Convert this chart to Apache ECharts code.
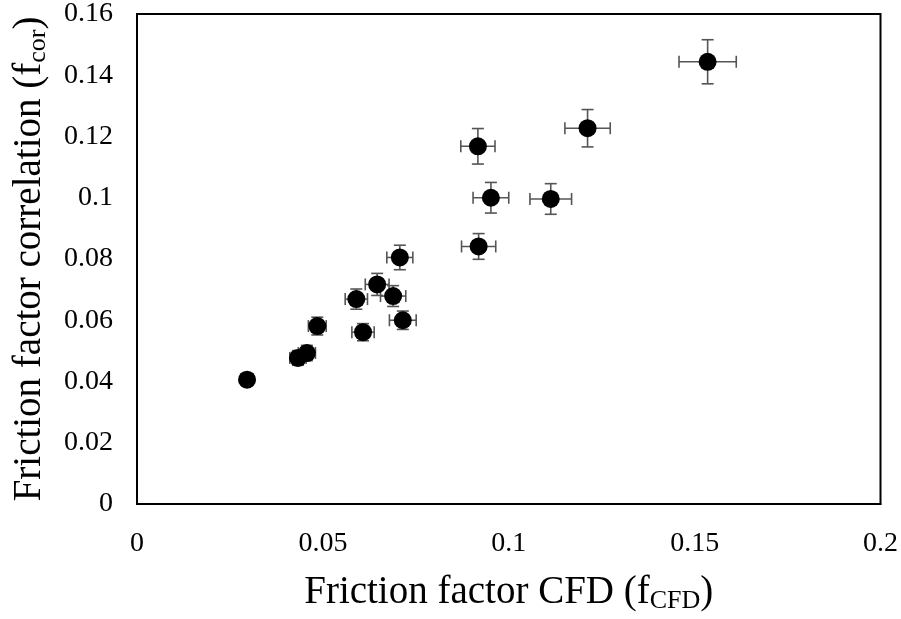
<!DOCTYPE html>
<html>
<head>
<meta charset="utf-8">
<script src="https://cdn.jsdelivr.net/npm/echarts@6/dist/echarts.min.js"></script>
<style>html,body{margin:0;padding:0;background:#fff;}#c{width:901px;height:619px;}</style>
</head>
<body>
<div id="c"></div>
<script>
// Friction factor CFD (x) vs correlation (y)
var fCFD = [0.0296, 0.0433, 0.0457, 0.0485, 0.0590, 0.0608, 0.0646, 0.0689, 0.0707, 0.0715, 0.0917, 0.0919, 0.0952, 0.1113, 0.1212, 0.1535];
var fCor = [0.0406, 0.0477, 0.0493, 0.0581, 0.0669, 0.0561, 0.0717, 0.0679, 0.0805, 0.0600, 0.1168, 0.0841, 0.1000, 0.0996, 0.1227, 0.1444];
var xErr = [0.0015, 0.0022, 0.0023, 0.0024, 0.0030, 0.0030, 0.0032, 0.0034, 0.0035, 0.0036, 0.0046, 0.0046, 0.0048, 0.0056, 0.0061, 0.0077];
var yErr = [0.0020, 0.0024, 0.0025, 0.0029, 0.0033, 0.0028, 0.0036, 0.0034, 0.0040, 0.0030, 0.0058, 0.0042, 0.0050, 0.0050, 0.0061, 0.0072];

var points = fCFD.map(function (x, i) { return [x, fCor[i]]; });
var errData = fCFD.map(function (x, i) { return [x, fCor[i], xErr[i], yErr[i]]; });

var chart = echarts.init(document.getElementById('c'));
var font = '"Liberation Serif", "Times New Roman", serif';

chart.setOption({
  animation: false,
  backgroundColor: '#fff',
  textStyle: { fontFamily: font },
  grid: { left: 137, right: 20, top: 14, bottom: 112, show: true, borderColor: '#000', borderWidth: 2, backgroundColor: 'transparent' },
  xAxis: {
    type: 'value', min: 0, max: 0.2, interval: 0.05,
    splitLine: { show: false },
    axisLine: { show: true, lineStyle: { color: '#000', width: 2 } },
    axisTick: { show: false },
    axisLabel: { color: '#000', fontSize: 28, fontFamily: font, margin: 26,
      formatter: function (v) { return +v.toFixed(2) + ''; } },
    name: 'Friction factor CFD (f{s|CFD})',
    nameLocation: 'middle', nameGap: 68,
    nameTextStyle: { color: '#000', fontSize: 39, fontFamily: font,
      rich: { s: { fontSize: 26, fontFamily: font, color: '#000', padding: [16, 0, 0, 0] } } }
  },
  yAxis: {
    type: 'value', min: 0, max: 0.16, interval: 0.02,
    splitLine: { show: false },
    axisLine: { show: true, lineStyle: { color: '#000', width: 2 } },
    axisTick: { show: false },
    axisLabel: { color: '#000', fontSize: 28, fontFamily: font, margin: 24,
      formatter: function (v) { return +v.toFixed(2) + ''; } },
    name: 'Friction factor correlation (f{s|cor})',
    nameLocation: 'middle', nameGap: 86,
    nameTextStyle: { color: '#000', fontSize: 39, fontFamily: font,
      rich: { s: { fontSize: 26, fontFamily: font, color: '#000', padding: [16, 0, 0, 0] } } }
  },
  series: [
    {
      type: 'custom',
      data: errData,
      z: 1,
      renderItem: function (params, api) {
        var x = api.value(0), y = api.value(1), ex = api.value(2), ey = api.value(3);
        var l = api.coord([x - ex, y]), r = api.coord([x + ex, y]);
        var t = api.coord([x, y + ey]), b = api.coord([x, y - ey]);
        var cap = 6;
        var st = { stroke: '#555', lineWidth: 1.6, fill: null };
        return {
          type: 'group',
          children: [
            { type: 'line', shape: { x1: l[0], y1: l[1], x2: r[0], y2: r[1] }, style: st },
            { type: 'line', shape: { x1: l[0], y1: l[1] - cap, x2: l[0], y2: l[1] + cap }, style: st },
            { type: 'line', shape: { x1: r[0], y1: r[1] - cap, x2: r[0], y2: r[1] + cap }, style: st },
            { type: 'line', shape: { x1: t[0], y1: t[1], x2: b[0], y2: b[1] }, style: st },
            { type: 'line', shape: { x1: t[0] - cap, y1: t[1], x2: t[0] + cap, y2: t[1] }, style: st },
            { type: 'line', shape: { x1: b[0] - cap, y1: b[1], x2: b[0] + cap, y2: b[1] }, style: st }
          ]
        };
      }
    },
    {
      type: 'scatter',
      data: points,
      z: 2,
      symbol: 'circle',
      symbolSize: 18,
      itemStyle: { color: '#000', opacity: 1 }
    }
  ]
});
</script>
</body>
</html>
